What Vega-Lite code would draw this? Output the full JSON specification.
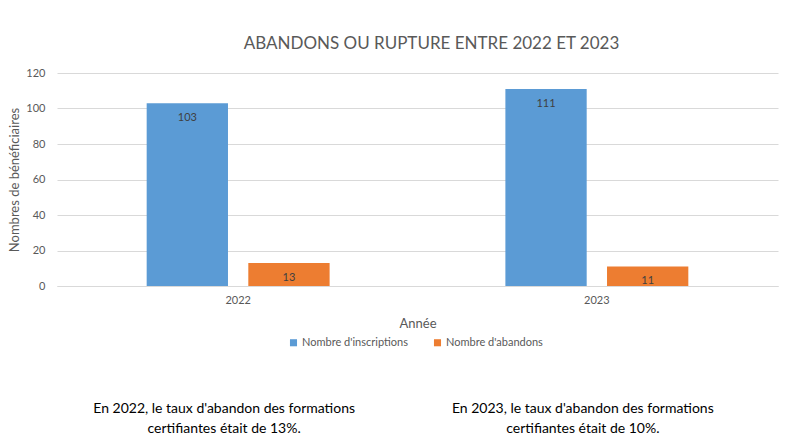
{
  "$schema": "https://vega.github.io/schema/vega-lite/v6.json",
  "width": 721,
  "height": 213,
  "autosize": {"type": "none"},
  "padding": {"left": 57, "top": 73, "right": 22, "bottom": 154},
  "background": "white",
  "config": {
    "font": "Lato",
    "view": {"stroke": null},
    "axis": {"labelFont": "Lato", "titleFont": "Lato", "labelColor": "#595959", "titleColor": "#595959", "labelFontSize": 11, "titleFontSize": 13, "titleFontWeight": "normal", "labelOverlap": false},
    "legend": {"labelFont": "Lato", "labelColor": "#595959", "labelFontSize": 11}
  },
  "title": {
    "text": "ABANDONS OU RUPTURE ENTRE 2022 ET 2023",
    "font": "Lato",
    "fontSize": 17,
    "fontWeight": "normal",
    "color": "#595959",
    "anchor": "middle",
    "offset": 14,
    "dx": 14
  },
  "layer": [
    {
      "data": {
        "values": [
          {"Année": "2022", "Série": "Nombre d'inscriptions", "Valeur": 103},
          {"Année": "2022", "Série": "Nombre d'abandons", "Valeur": 13},
          {"Année": "2023", "Série": "Nombre d'inscriptions", "Valeur": 111},
          {"Année": "2023", "Série": "Nombre d'abandons", "Valeur": 11}
        ]
      },
      "encoding": {
        "x": {
          "field": "Année", "type": "nominal",
          "scale": {"paddingInner": 0.49, "paddingOuter": 0.25},
          "axis": {"labelAngle": 0, "ticks": false, "domainColor": "#d9d9d9", "labelPadding": 8, "titlePadding": 12, "title": "Année"}
        },
        "xOffset": {
          "field": "Série", "type": "nominal",
          "scale": {"domain": ["Nombre d'inscriptions", "Nombre d'abandons"], "paddingInner": 0.2, "paddingOuter": 0}
        },
        "y": {
          "field": "Valeur", "type": "quantitative",
          "scale": {"domain": [0, 120]},
          "axis": {"values": [0, 20, 40, 60, 80, 100, 120], "domain": false, "ticks": false, "gridColor": "#d9d9d9", "labelPadding": 12, "titlePadding": 4, "title": "Nombres de bénéficiaires"}
        }
      },
      "layer": [
        {
          "mark": {"type": "bar"},
          "encoding": {
            "color": {
              "field": "Série", "type": "nominal",
              "scale": {"domain": ["Nombre d'inscriptions", "Nombre d'abandons"], "range": ["#5B9BD5", "#ED7D31"]},
              "legend": {"title": null, "orient": "none", "legendX": 231, "legendY": 264, "direction": "horizontal", "symbolType": "square", "symbolSize": 50, "symbolStrokeWidth": 0, "columnPadding": 24, "labelOffset": 3}
            }
          }
        },
        {
          "mark": {"type": "text", "baseline": "middle", "dy": 15, "fontSize": 11, "color": "#404040", "font": "Lato"},
          "encoding": {"text": {"field": "Valeur", "type": "quantitative"}}
        }
      ]
    },
    {
      "data": {
        "values": [
          {"Année": "2022", "Texte": "En 2022, le taux d'abandon des formations\ncertifiantes était de 13%."},
          {"Année": "2023", "Texte": "En 2023, le taux d'abandon des formations\ncertifiantes était de 10%."}
        ]
      },
      "mark": {"type": "text", "baseline": "top", "align": "center", "lineBreak": "\n", "lineHeight": 20, "dy": 116, "dx": -14, "fontSize": 14, "color": "#000000", "font": "Lato"},
      "encoding": {
        "x": {
          "field": "Année", "type": "nominal",
          "axis": {"labelAngle": 0, "ticks": false, "domainColor": "#d9d9d9", "labelPadding": 8, "titlePadding": 12, "title": "Année"}
        },
        "y": {
          "datum": 0, "type": "quantitative",
          "axis": {"values": [0, 20, 40, 60, 80, 100, 120], "domain": false, "ticks": false, "gridColor": "#d9d9d9", "labelPadding": 12, "titlePadding": 4, "title": "Nombres de bénéficiaires"}
        },
        "text": {"field": "Texte"}
      }
    }
  ]
}
